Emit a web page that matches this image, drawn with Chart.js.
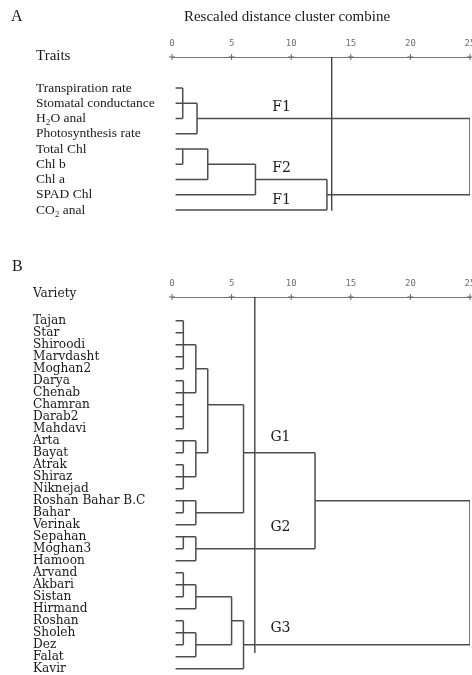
<!DOCTYPE html>
<html>
<head>
<meta charset="utf-8">
<script src="https://cdn.jsdelivr.net/npm/chart.js@4.4.0/dist/chart.umd.min.js"></script>
<style>
  body { margin: 0; background: #fff; }
  #boxA { position: absolute; left: 0; top: 0; }
  #boxB { position: absolute; left: 0; top: 235px; }
</style>
</head>
<body>
<canvas id="boxA" width="472" height="235"></canvas>
<canvas id="boxB" width="472" height="440"></canvas>
<script>

/* data */

var distTicks = [0, 5, 10, 15, 20, 25];
var leafStart = 0.3;

// A - traits
var traits = ['Transpiration rate', 'Stomatal conductance', 'H\u2082O anal', 'Photosynthesis rate',
  'Total Chl', 'Chl b', 'Chl a', 'SPAD Chl', 'CO\u2082 anal'];
var traitDist = [0.9, 2.1, 0.9, 3.0, 7.0, 13.0, 25];
var traitKids = [[0, 1, 2], ['m0', 3], [4, 5], ['m2', 6], ['m3', 7], ['m4', 8], ['m1', 'm5']];
var traitRow = [1, 2, 4, 5, 6, 7, null];
var traitCut = 13.4;

// B - varieties
var varieties = ['Tajan', 'Star', 'Shiroodi', 'Marvdasht', 'Moghan2', 'Darya', 'Chenab', 'Chamran',
  'Darab2', 'Mahdavi', 'Arta', 'Bayat', 'Atrak', 'Shiraz', 'Niknejad', 'Roshan Bahar B.C', 'Bahar',
  'Verinak', 'Sepahan', 'Moghan3', 'Hamoon', 'Arvand', 'Akbari', 'Sistan', 'Hirmand', 'Roshan',
  'Sholeh', 'Dez', 'Falat', 'Kavir'];
var varDist = [0.95, 0.95, 2, 0.95, 0.95, 2, 3, 0.95, 2, 6, 0.95, 2, 12, 0.95, 2, 0.95, 2, 5, 6, 25];
var varKids = [[0, 1, 2, 3, 4], [5, 6, 7, 8, 9], ['m0', 'm1'], [10, 11], [12, 13, 14], ['m3', 'm4'],
  ['m2', 'm5'], [15, 16], ['m7', 17], ['m6', 'm8'], [18, 19], ['m10', 20], ['m9', 'm11'],
  [21, 22, 23], ['m13', 24], [25, 26, 27], ['m15', 28], ['m14', 'm16'], ['m17', 29], ['m12', 'm18']];
var varRow = [2, 6, 4, 10, 13, 11, 7, 15, 16, 11, 18, 19, 15, 22, 23, 26, 27, 25, 27, null];
var varCut = 6.95;


/* dendrogram lines from the merge lists */
function treeSegments(dist, kids, rows) {
  var pts = [];
  dist.forEach(function (d, i) {
    var ys = [];
    kids[i].forEach(function (k) {
      var x0, y;
      if (typeof k === 'string') {
        var j = +k.slice(1);
        x0 = dist[j];
        y = rows[j];
      } else {
        x0 = leafStart;
        y = k;
      }
      pts.push({x: x0, y: y}, {x: d, y: y}, {x: d, y: null});
      ys.push(y);
    });
    pts.push({x: d, y: Math.min.apply(null, ys)}, {x: d, y: Math.max.apply(null, ys)}, {x: d, y: null});
  });
  return pts;
}

function noPad(s) {
  s.paddingLeft = 0; s.paddingRight = 0; s.paddingTop = 0; s.paddingBottom = 0;
}


var notesPlugin = {
  id: 'notes',
  afterDraw: function (chart, args, opts) {
    var ctx = chart.ctx, xs = chart.scales.x, ys = chart.scales.y;
    ctx.save();
    ctx.fillStyle = '#1a1a1a';
    ctx.textBaseline = 'middle';
    (opts.items || []).forEach(function (n) {
      ctx.font = n.font;
      ctx.textAlign = n.align || 'left';
      var px = n.data ? xs.getPixelForValue(n.x) : n.x;
      var py = n.data ? ys.getPixelForValue(n.y) : n.y;
      ctx.fillText(n.text, px, py);
    });
    ctx.restore();
  }
};


function makeChart(id, o) {
  return new Chart(document.getElementById(id), {
    type: 'line',
    data: {
      datasets: [{
        data: treeSegments(o.dist, o.kids, o.rows),
        borderColor: '#4d4d4d',
        borderWidth: 1.5,
        pointRadius: 0,
        spanGaps: false,
        tension: 0
      }, {
        data: [{x: o.cut, y: o.min}, {x: o.cut, y: o.cutEnd}],
        borderColor: '#262626',
        borderWidth: 1.2,
        pointRadius: 0
      }, {
        data: distTicks.map(function (t) { return {x: t, y: o.min}; }),
        showLine: false,
        pointStyle: 'cross',
        pointRadius: 3,
        borderColor: '#666',
        borderWidth: 1,
        clip: false
      }]
    },
    options: {
      responsive: false,
      animation: false,
      events: [],
      layout: {autoPadding: false, padding: {left: o.padLeft, right: 2, top: 0, bottom: o.padBottom}},
      plugins: {
        legend: {display: false},
        tooltip: {enabled: false},
        notes: {items: o.notes}
      },
      scales: {
        x: {
          type: 'linear',
          position: 'top',
          min: 0,
          max: 25,
          afterBuildTicks: function (s) { s.ticks = distTicks.map(function (v) { return {value: v}; }); },
          afterFit: function (s) { s.height = o.axisTop; noPad(s); },
          grid: {display: false, drawTicks: false},
          border: {display: true, dash: [3, 2], color: '#777', width: 1},
          ticks: {
            padding: 8,
            color: '#707070',
            font: {family: 'DejaVu Sans Mono', size: 9}
          }
        },
        y: {
          type: 'linear',
          reverse: true,
          min: o.min,
          max: o.max,
          afterBuildTicks: function (s) { s.ticks = o.labels.map(function (l, i) { return {value: i}; }); },
          afterFit: function (s) { s.width = 172 - o.padLeft; noPad(s); },
          grid: {display: false},
          border: {display: false},
          ticks: {
            autoSkip: false,
            crossAlign: 'far',
            color: '#1a1a1a',
            font: o.labelFont,
            callback: function (v) { return o.labels[v]; }
          }
        }
      }
    },
    plugins: [notesPlugin]
  });
}


makeChart('boxA', {
  dist: traitDist, kids: traitKids, rows: traitRow, cut: traitCut, cutEnd: 8.05,
  labels: traits,
  labelFont: {family: 'Liberation Serif', size: 13.5},
  padLeft: 36, padBottom: 5, axisTop: 57,
  min: -2.03, max: 9.31,
  notes: [
    {text: 'A', x: 11, y: 17, font: '16px "Liberation Serif"'},
    {text: 'Rescaled distance cluster combine', x: 287, y: 17, align: 'center', font: '15px "Liberation Serif"'},
    {text: 'Traits', x: 36, y: 56, font: '15px "Liberation Serif"'},
    {text: 'F1', data: true, x: 9.2, y: 1.25, align: 'center', font: '14px "DejaVu Serif"'},
    {text: 'F2', data: true, x: 9.2, y: 5.3, align: 'center', font: '14px "DejaVu Serif"'},
    {text: 'F1', data: true, x: 9.2, y: 7.35, align: 'center', font: '14px "DejaVu Serif"'}
  ]
});

makeChart('boxB', {
  dist: varDist, kids: varKids, rows: varRow, cut: varCut, cutEnd: 27.7,
  labels: varieties,
  labelFont: {family: '"DejaVu Serif Condensed", "DejaVu Serif"', size: 13.5},
  padLeft: 33, padBottom: 2, axisTop: 62,
  min: -1.975, max: 29.36,
  notes: [
    {text: 'B', x: 12, y: 32, font: '16px "Liberation Serif"'},
    {text: 'Variety', x: 33, y: 58, font: '13.5px "DejaVu Serif Condensed", "DejaVu Serif"'},
    {text: 'G1', data: true, x: 9.1, y: 9.7, align: 'center', font: '14px "DejaVu Serif"'},
    {text: 'G2', data: true, x: 9.1, y: 17.2, align: 'center', font: '14px "DejaVu Serif"'},
    {text: 'G3', data: true, x: 9.1, y: 25.6, align: 'center', font: '14px "DejaVu Serif"'}
  ]
});

</script>
</body>
</html>
